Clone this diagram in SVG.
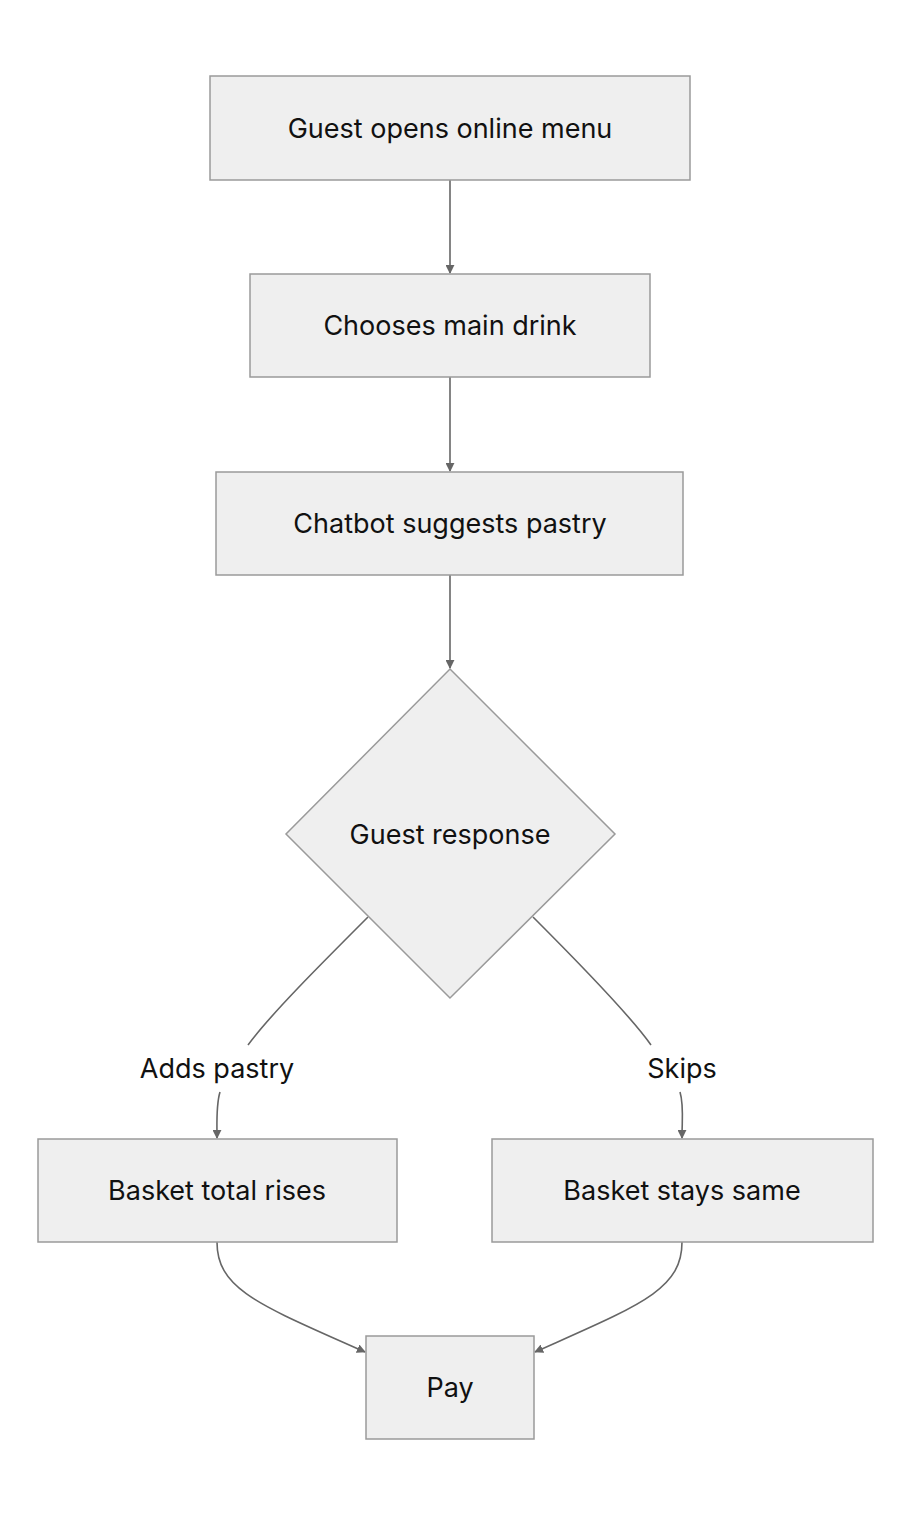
<svg xmlns="http://www.w3.org/2000/svg" width="912" height="1516" viewBox="0 0 912 1516">
<style>
.n{fill:#efefef;stroke:#9a9a9a;stroke-width:1.5}
.t{font-family:Inter,"Liberation Sans",sans-serif;font-size:27px;fill:#111;text-anchor:middle;dominant-baseline:central}
.c{fill:none;stroke:#666;stroke-width:1.6}
</style>
<defs><marker id="a" viewBox="0 0 10 10" refX="9" refY="5" markerWidth="9" markerHeight="9" orient="auto-start-reverse" markerUnits="userSpaceOnUse"><path d="M0,0L10,5L0,10z" fill="#666"/></marker></defs>
<rect width="912" height="1516" fill="#fff"/>
<g id="connectors">
<path class="c" d="M450,180V273" marker-end="url(#a)"/>
<path class="c" d="M450,377V471" marker-end="url(#a)"/>
<path class="c" d="M450,575V668" marker-end="url(#a)"/>
<path class="c" d="M368,917C320,965 270,1015 248,1045"/>
<path class="c" d="M220,1092C216,1105 217,1120 217,1138" marker-end="url(#a)"/>
<path class="c" d="M533,917C581,965 630,1015 651,1045"/>
<path class="c" d="M680,1092C684,1105 682,1120 682,1138" marker-end="url(#a)"/>
<path class="c" d="M217,1242C217,1290 260,1305 365,1352" marker-end="url(#a)"/>
<path class="c" d="M682,1242C682,1290 640,1305 535,1352" marker-end="url(#a)"/>
<text class="t" x="217" y="1068">Adds pastry</text>
<text class="t" x="682" y="1068">Skips</text>
</g>
<g id="n1"><rect class="n" x="210" y="76" width="480" height="104"/><text class="t" x="450" y="128">Guest opens online menu</text></g>
<g id="n2"><rect class="n" x="250" y="274" width="400" height="103"/><text class="t" x="450" y="325">Chooses main drink</text></g>
<g id="n3"><rect class="n" x="216" y="472" width="467" height="103"/><text class="t" x="450" y="523">Chatbot suggests pastry</text></g>
<g id="n4"><path class="n" d="M450,669L615,834L450,998L286,834Z"/><text class="t" x="450" y="834">Guest response</text></g>
<g id="n5"><rect class="n" x="38" y="1139" width="359" height="103"/><text class="t" x="217" y="1190">Basket total rises</text></g>
<g id="n6"><rect class="n" x="492" y="1139" width="381" height="103"/><text class="t" x="682" y="1190">Basket stays same</text></g>
<g id="n7"><rect class="n" x="366" y="1336" width="168" height="103"/><text class="t" x="450" y="1387">Pay</text></g>
</svg>
